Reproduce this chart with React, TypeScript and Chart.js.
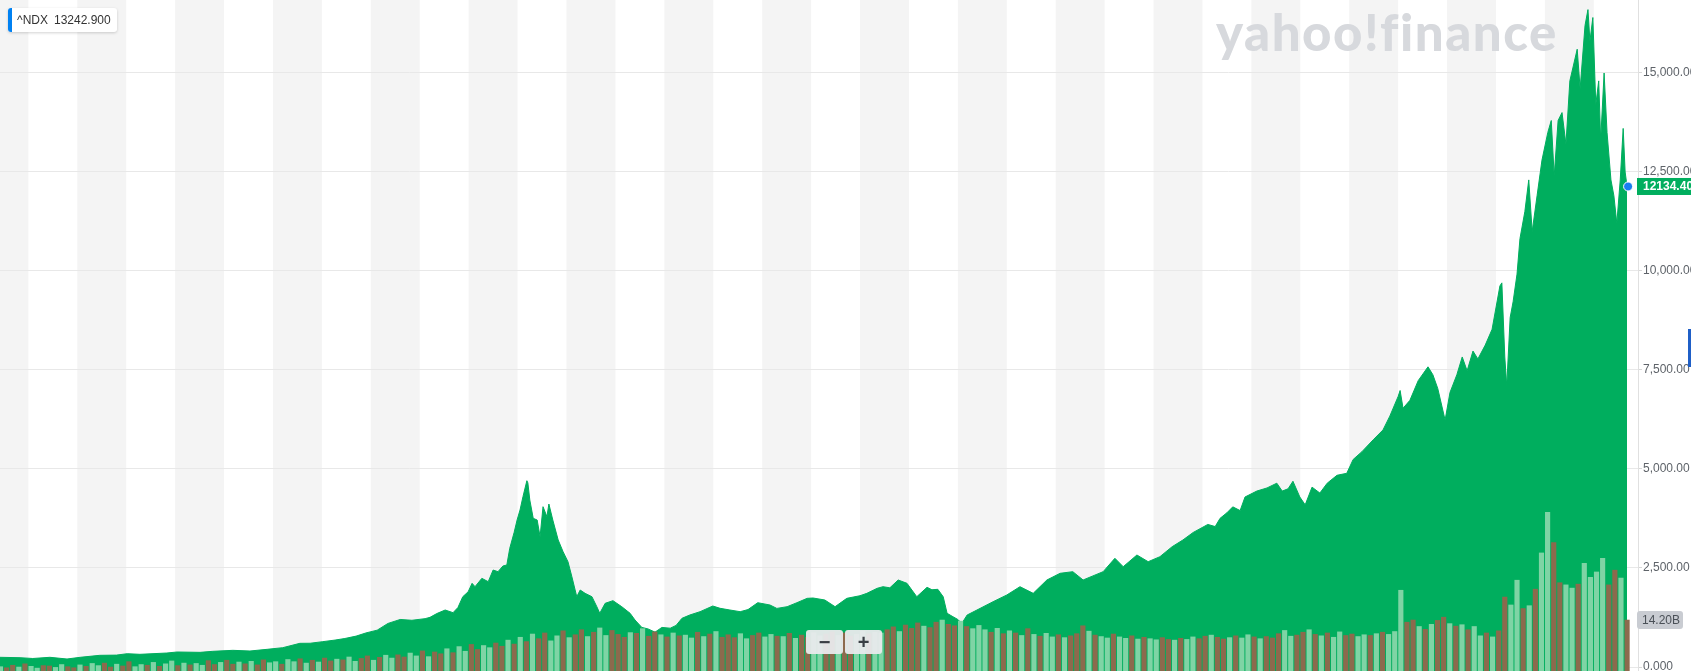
import React, { useEffect, useRef } from "react";
import { Chart, registerables } from "chart.js";

Chart.register(...registerables);

// ---------- data ----------
const PRICE_DATES = [
  1989.42, 1989.83, 1990.09, 1990.44, 1990.79, 1991.06, 1991.46, 1991.8, 1992.02, 1992.28,
  1992.83, 1993.04, 1993.51, 1993.77, 1994.18, 1994.53, 1994.88, 1995.2, 1995.55, 1995.76,
  1996.02, 1996.27, 1996.47, 1996.7, 1996.9, 1997.13, 1997.35, 1997.6, 1997.84, 1998.11,
  1998.21, 1998.35, 1998.52, 1998.68, 1998.78, 1998.88, 1998.99, 1999.07, 1999.13, 1999.27,
  1999.4, 1999.5, 1999.6, 1999.7, 1999.78, 1999.84, 1999.93, 1999.99, 2000.05, 2000.11,
  2000.19, 2000.21, 2000.25, 2000.32, 2000.4, 2000.46, 2000.52, 2000.6, 2000.64, 2000.72,
  2000.83, 2000.93, 2001.03, 2001.11, 2001.21, 2001.28, 2001.38, 2001.52, 2001.62, 2001.68,
  2001.79, 2001.95, 2002.13, 2002.3, 2002.4, 2002.54, 2002.67, 2002.81, 2002.95, 2003.12,
  2003.24, 2003.36, 2003.52, 2003.73, 2003.99, 2004.14, 2004.34, 2004.55, 2004.71, 2004.91,
  2005.16, 2005.3, 2005.51, 2005.71, 2005.92, 2006.04, 2006.28, 2006.49, 2006.73, 2007.0,
  2007.14, 2007.35, 2007.47, 2007.61, 2007.78, 2007.96, 2008.16, 2008.37, 2008.47, 2008.59,
  2008.7, 2008.78, 2008.9, 2009.0, 2009.08, 2009.19, 2009.39, 2009.72, 2010.0, 2010.27,
  2010.54, 2010.82, 2011.09, 2011.35, 2011.56, 2011.76, 2011.97, 2012.21, 2012.38, 2012.66,
  2012.89, 2013.13, 2013.38, 2013.6, 2013.81, 2014.11, 2014.26, 2014.36, 2014.5, 2014.62,
  2014.77, 2014.87, 2015.11, 2015.32, 2015.52, 2015.63, 2015.75, 2015.85, 2015.99, 2016.1,
  2016.24, 2016.4, 2016.55, 2016.75, 2016.95, 2017.08, 2017.26, 2017.49, 2017.69, 2017.83,
  2018.0, 2018.04, 2018.1, 2018.24, 2018.41, 2018.61, 2018.71, 2018.81, 2018.96, 2019.06,
  2019.2, 2019.31, 2019.41, 2019.53, 2019.63, 2019.78, 2019.92, 2020.08, 2020.12, 2020.18,
  2020.22, 2020.29, 2020.35, 2020.43, 2020.49, 2020.59, 2020.67, 2020.74, 2020.84, 2020.94,
  2021.06, 2021.13, 2021.19, 2021.27, 2021.35, 2021.43, 2021.51, 2021.66, 2021.72, 2021.82,
  2021.88, 2021.92, 2021.98, 2022.04, 2022.1, 2022.14, 2022.21, 2022.27, 2022.35, 2022.41,
  2022.47, 2022.54, 2022.6, 2022.64, 2022.68,
];

const PRICE_VALUES = [
  245, 235, 215, 245, 202, 245, 295, 300, 336, 320,
  353, 379, 370, 396, 421, 404, 446, 488, 598, 600,
  640, 680, 720, 780, 860, 930, 1100, 1200, 1180, 1221,
  1254, 1350, 1439, 1372, 1500, 1775, 1900, 2113, 2028, 2239,
  2154, 2449, 2407, 2550, 2576, 2997, 3400, 3712, 3964, 4300,
  4704, 4650, 4217, 3754, 3712, 3290, 4048, 3795, 4116, 3712,
  3207, 2912, 2659, 2280, 1775, 1944, 1860, 1775, 1523, 1356,
  1608, 1675, 1523, 1356, 1187, 1000, 960, 880, 1000, 980,
  1050, 1229, 1313, 1397, 1540, 1482, 1439, 1397, 1450, 1624,
  1565, 1480, 1523, 1624, 1734, 1742, 1692, 1523, 1734, 1800,
  1860, 1987, 2028, 2000, 2197, 2113, 1775, 2012, 1950, 1962,
  1775, 1356, 1270, 1200, 1100, 1313, 1439, 1649, 1818, 2028,
  1860, 2197, 2366, 2407, 2197, 2300, 2407, 2745, 2533, 2828,
  2659, 2785, 3038, 3207, 3397, 3600, 3546, 3754, 3895, 4044,
  3950, 4293, 4442, 4522, 4642, 4442, 4500, 4691, 4293, 4094,
  4542, 4393, 4642, 4841, 4891, 5240, 5438, 5737, 5986, 6335,
  6833, 6982, 6534, 6733, 7231, 7580, 7380, 7032, 6235, 6932,
  7380, 7829, 7480, 7978, 7779, 8128, 8526, 9622, 9700, 7829,
  7100, 8825, 9224, 9921, 10817, 11500, 12300, 11000, 11900, 12800,
  13500, 13800, 12400, 13800, 14000, 13200, 14800, 15600, 14600, 16200,
  16600, 15800, 16400, 14200, 14800, 13300, 15000, 13500, 12300, 11900,
  11200, 12300, 13600, 12500, 12134,
];

// volume bars (billions), one every 1/8 year starting at VOL_START
const VOL_START = 1989.43;
const VOL_STEP = 0.125;
const VOLUMES = [
  1.2, 0.9, 1.6, 1.1, 2.0, 1.3, 0.8, 1.5,
  1.4, 1.0, 1.8, 1.2, 0.9, 1.7, 1.3, 2.1,
  1.5, 2.2, 1.1, 1.9, 1.4, 2.6, 1.2, 1.8,
  1.6, 2.4, 1.3, 2.0, 2.8, 1.5, 2.2, 1.7,
  2.1, 1.6, 2.9, 1.8, 2.4, 3.0, 1.9, 2.5,
  2.0, 2.7, 1.7, 3.1, 2.3, 2.6, 1.9, 3.2,
  2.6, 3.4, 2.2, 3.0, 2.5, 3.6, 2.8, 3.3,
  3.1, 3.9, 2.7, 3.5, 4.2, 3.0, 3.8, 4.4,
  3.6, 4.5, 3.9, 5.0, 4.2, 5.6, 4.0, 5.3,
  4.8, 6.2, 5.1, 6.8, 5.5, 7.4, 6.0, 7.1,
  6.5, 7.8, 6.9, 8.6, 7.5, 9.4, 8.2, 10.3,
  9.0, 10.6, 8.4, 9.8, 11.2, 9.3, 10.1, 11.5,
  9.6, 10.8, 12.0, 9.9, 11.3, 10.2, 9.4, 10.7,
  10.5, 11.8, 9.7, 10.9, 10.1, 9.5, 10.6, 9.8,
  10.0, 9.2, 10.8, 9.6, 10.3, 11.0, 9.4, 10.1,
  9.3, 10.4, 9.0, 9.9, 10.6, 9.5, 10.2, 9.7,
  9.6, 10.5, 9.1, 10.0, 9.4, 10.7, 9.8, 10.3,
  10.9, 9.9, 10.6, 9.7, 10.2, 11.1, 10.4, 10.8,
  10.6, 11.5, 12.3, 11.0, 12.8, 11.9, 13.4, 12.5,
  12.1, 13.6, 14.2, 13.0, 12.6, 13.9, 12.4, 11.8,
  12.7, 11.5, 10.8, 11.9, 10.4, 11.2, 10.6, 9.9,
  11.8, 10.2, 9.7, 10.5, 9.5, 10.1, 9.3, 9.8,
  10.4, 12.6, 11.1, 10.0, 9.6, 9.2, 10.3, 9.5,
  9.1, 9.8, 8.9, 9.4, 9.0, 8.7, 9.3, 8.8,
  8.6, 9.1, 8.8, 9.5, 9.0, 9.7, 10.0, 9.4,
  8.9, 9.3, 9.8, 9.2, 10.1, 9.5, 9.0, 9.6,
  9.2, 10.4, 11.3, 9.7, 10.0, 10.8, 11.5, 10.2,
  9.8, 10.6, 9.4, 10.9, 9.9, 10.3, 9.6, 10.1,
  9.9, 10.4, 10.8, 10.2, 11.0, 22.5, 13.6, 14.2,
  12.4, 11.6, 13.0, 14.1, 15.0, 13.2, 12.5, 12.9,
  11.5, 12.4, 9.8, 10.6, 9.5, 11.2, 20.6, 18.4,
  25.3, 17.4, 18.2, 22.8, 32.9, 44.2, 35.8, 24.6,
  24.0, 23.1, 24.2, 30.0, 26.1, 27.6, 31.4, 24.0,
  28.1, 25.9, 14.2,
];
// u = up day (light green), d = down day (brown)
const VOL_DIRS = [
  "udduduud", "duuddudu", "uddudduu", "duduudud", "uudduddu", "dudduudu",
  "udududdu", "duuddudu", "udduudud", "duduuddu", "uddududu", "dduududd",
  "uduudddu", "duddudud", "uudududd", "duudduud", "ududduud", "dudduudu",
  "uddudddu", "dduddudu", "uudududu", "duduudud", "dduduudu", "ududuudd",
  "uduuddud", "duduudud", "dduuddud", "uduudduu", "duduuudd", "ududdudu",
  "duududdu", "ududuudd", "uuduuuud", "dud",
].join("");

const Y_TICKS = [0, 2500, 5000, 7500, 10000, 12500, 15000];
const Y_LABELS = ["0.000", "2,500.00", "5,000.00", "7,500.00", "10,000.00", "12,500.00", "15,000.00"];

const SYMBOL = "^NDX";
const HOVER_VALUE = "13242.900";
const LAST_PRICE_LABEL = "12134.40";
const LAST_VOL_LABEL = "14.20B";
const WATERMARK = "yahoo!finance";

const STRIPE_FIRST_YEAR = 1989;
const STRIPE_LAST_YEAR = 2022;

// ---------- styling ----------
const X_MIN = 1989.42;
const X_MAX = 2022.903;
const Y_MIN = -101;
const Y_MAX = 16843;
const VOL_MAX = 187;
const GREEN = "#00ae5e";
const VOL_UP = "#7fd4a5";
const VOL_DOWN = "#8c6a4d";
const FONT = "'Liberation Sans', Arial, Helvetica, sans-serif";

const W = 1691;
const H = 671;

const bgPlugin = {
  id: "stripes",
  beforeDraw(chart: any) {
    const { ctx, chartArea, scales } = chart;
    const x = scales.x;
    ctx.save();
    ctx.fillStyle = "#ffffff";
    ctx.fillRect(0, 0, chart.width, chart.height);
    ctx.beginPath();
    ctx.rect(chartArea.left, chartArea.top, chartArea.right - chartArea.left, chartArea.bottom - chartArea.top);
    ctx.clip();
    ctx.fillStyle = "#f4f4f4";
    for (let yr = STRIPE_FIRST_YEAR; yr <= STRIPE_LAST_YEAR; yr++) {
      if (yr % 2 !== 0) {
        const a = x.getPixelForValue(yr);
        const b = x.getPixelForValue(yr + 1);
        ctx.fillRect(a, chartArea.top, b - a, chartArea.bottom - chartArea.top);
      }
    }
    ctx.restore();
  },
};

function roundRect(ctx: CanvasRenderingContext2D, x: number, y: number, w: number, h: number, r: number) {
  ctx.beginPath();
  ctx.moveTo(x + r, y);
  ctx.lineTo(x + w - r, y);
  ctx.quadraticCurveTo(x + w, y, x + w, y + r);
  ctx.lineTo(x + w, y + h - r);
  ctx.quadraticCurveTo(x + w, y + h, x + w - r, y + h);
  ctx.lineTo(x + r, y + h);
  ctx.quadraticCurveTo(x, y + h, x, y + h - r);
  ctx.lineTo(x, y + r);
  ctx.quadraticCurveTo(x, y, x + r, y);
  ctx.closePath();
}

const tagPlugin = {
  id: "tags",
  afterDraw(chart: any) {
    const { ctx, scales } = chart;
    const { x, y, y2 } = scales;
    const n = PRICE_VALUES.length;
    const lx = x.getPixelForValue(PRICE_DATES[n - 1]);
    const ly = y.getPixelForValue(PRICE_VALUES[n - 1]);
    const ax = y.left;
    ctx.save();
    // last point dot
    ctx.beginPath();
    ctx.arc(lx + 1, ly, 4.5, 0, Math.PI * 2);
    ctx.fillStyle = "#1a7df0";
    ctx.fill();
    ctx.lineWidth = 1;
    ctx.strokeStyle = "#ffffff";
    ctx.stroke();
    // price tag
    ctx.fillStyle = GREEN;
    ctx.fillRect(ax - 1, ly - 8.5, chart.width - ax + 1, 17);
    ctx.fillStyle = "#ffffff";
    ctx.font = `bold 12px ${FONT}`;
    ctx.textBaseline = "middle";
    ctx.textAlign = "left";
    ctx.fillText(LAST_PRICE_LABEL, ax + 5, ly + 0.5);
    // volume tag
    const vy = y2.getPixelForValue(VOLUMES[VOLUMES.length - 1]);
    ctx.fillStyle = "#c9ccd2";
    roundRect(ctx, ax - 1, vy - 9, 46, 18, 3);
    ctx.fill();
    ctx.fillStyle = "#4a5057";
    ctx.font = `12px ${FONT}`;
    ctx.fillText(LAST_VOL_LABEL, ax + 4, vy + 0.5);
    ctx.restore();
  },
};

function ChartCanvas() {
  const ref = useRef<HTMLCanvasElement | null>(null);
  useEffect(() => {
    if (!ref.current) return;
    Chart.defaults.font.family = FONT;
    const priceData = PRICE_DATES.map((d, i) => ({ x: d, y: PRICE_VALUES[i] }));
    const volData = VOLUMES.map((v, i) => ({ x: VOL_START + i * VOL_STEP, y: v }));
    const volColors = VOLUMES.map((_, i) => (VOL_DIRS[i] === "u" ? VOL_UP : VOL_DOWN));
    const chart = new Chart(ref.current, {
      type: "line",
      data: {
        datasets: [
          {
            type: "bar",
            data: volData as any,
            yAxisID: "y2",
            xAxisID: "x",
            backgroundColor: volColors,
            barThickness: 4.5,
            grouped: false,
            order: 0,
          } as any,
          {
            type: "line",
            data: priceData as any,
            yAxisID: "y",
            xAxisID: "x",
            borderColor: GREEN,
            backgroundColor: GREEN,
            borderWidth: 1,
            pointRadius: 0,
            tension: 0,
            fill: "start",
            order: 1,
          } as any,
        ],
      },
      options: {
        animation: false,
        responsive: false,
        events: [],
        layout: { padding: 0 },
        plugins: { legend: { display: false }, tooltip: { enabled: false } },
        scales: {
          x: { type: "linear", display: false, min: X_MIN, max: X_MAX, offset: false },
          y: {
            type: "linear",
            position: "right",
            min: Y_MIN,
            max: Y_MAX,
            afterBuildTicks: (s: any) => {
              s.ticks = Y_TICKS.map((v) => ({ value: v }));
            },
            afterFit: (s: any) => {
              s.width = 53;
              s.paddingTop = 0;
              s.paddingBottom = 0;
            },
            grid: { color: "#e8e8e8", drawTicks: true, tickLength: 4, tickColor: "#d8d8d8" },
            border: { display: true, color: "#e0e0e0" },
            ticks: {
              padding: 1,
              color: "#5e6369",
              font: { size: 12, family: FONT },
              autoSkip: false,
              callback: (_v: any, i: number) => Y_LABELS[i] ?? "",
            },
          },
          y2: { type: "linear", display: false, min: 0, max: VOL_MAX, position: "right" },
        },
      } as any,
      plugins: [bgPlugin, tagPlugin],
    });
    return () => chart.destroy();
  }, []);
  return <canvas ref={ref} width={W} height={H} style={{ display: "block", width: W, height: H }} />;
}

export default function App() {
  return (
    <div style={{ position: "absolute", left: 0, top: 0, width: W, height: H, overflow: "hidden", background: "#fff" }}>
      <ChartCanvas />
      <div
        style={{
          position: "absolute",
          left: 1216,
          top: 7,
          fontFamily: "Lato, 'Liberation Sans', Arial, sans-serif",
          fontWeight: 900,
          fontSize: 51,
          lineHeight: "50px",
          color: "#d7d9dd",
          whiteSpace: "nowrap",
          letterSpacing: "1.5px",
          pointerEvents: "none",
        }}
      >
        {WATERMARK}
      </div>
      <div
        style={{
          position: "absolute",
          left: 8,
          top: 8,
          height: 24,
          display: "flex",
          alignItems: "center",
          background: "#fff",
          borderRadius: 3,
          boxShadow: "0 1px 3px rgba(0,0,0,0.18)",
          fontFamily: FONT,
          fontSize: 12,
          color: "#333",
          paddingRight: 6,
          overflow: "hidden",
        }}
      >
        <div style={{ width: 4, height: 24, background: "#0081f2", marginRight: 5 }} />
        <span>{SYMBOL}</span>
        <span style={{ marginLeft: 6 }}>{HOVER_VALUE}</span>
      </div>
      <div style={{ position: "absolute", left: 806, top: 630, display: "flex", gap: 2 }}>
        {["−", "+"].map((t) => (
          <div
            key={t}
            style={{
              width: 37,
              height: 24,
              background: "rgba(233,234,236,0.95)",
              borderRadius: 3,
              display: "flex",
              alignItems: "center",
              justifyContent: "center",
              fontFamily: FONT,
              fontWeight: 700,
              fontSize: 20,
              color: "#3a3f45",
            }}
          >
            {t}
          </div>
        ))}
      </div>
      <div style={{ position: "absolute", left: 1688, top: 329, width: 3, height: 38, background: "#1f5fc7" }} />
    </div>
  );
}
